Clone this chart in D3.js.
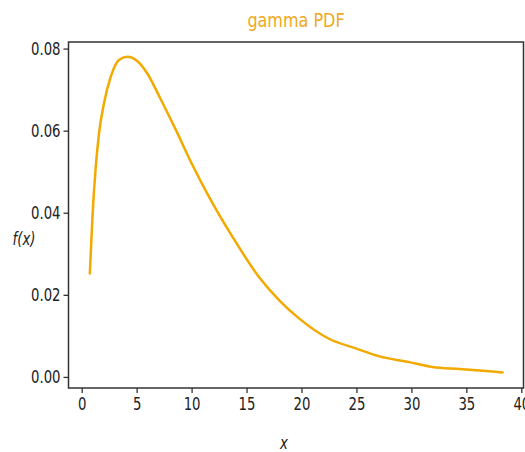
<!DOCTYPE html>
<html>
<head>
<meta charset="utf-8">
<script src="https://cdn.jsdelivr.net/npm/d3@7"></script>
<style>
  body { margin: 0; background: #fff; }
  text { font-family: "DejaVu Sans", sans-serif; }
</style>
</head>
<body>
<div id="chart"></div>
<script>
// values
var xs = [0.74, 0.98, 1.28, 1.58, 2.03, 2.64, 3.39, 4.14, 5.0, 6.0, 7.09, 8.6, 10.1, 11.6, 13.75, 16.2, 18.0, 19.8, 22.5, 25.0, 27.1, 29.8, 31.9, 34.4, 38.3];
var pdf = [0.0252, 0.0390, 0.0512, 0.0594, 0.0667, 0.0731, 0.0772, 0.0780, 0.0771, 0.0738, 0.0682, 0.0600, 0.0515, 0.0438, 0.0340, 0.0241, 0.0186, 0.0142, 0.0093, 0.0069, 0.0050, 0.0036, 0.0024, 0.0019, 0.0011];
var xTicks = [0, 5, 10, 15, 20, 25, 30, 35, 40];
var yTicks = [0, 0.02, 0.04, 0.06, 0.08];

(function() {
  var w = 525, h = 452;
  var mLeft = 68.5, mRight = 523.5, mTop = 42, mBottom = 388;
  var sx = 0.78; // text is narrow in the picture

  var svg = d3.select("#chart").append("svg")
    .attr("width", w)
    .attr("height", h);

  var x = d3.scaleLinear().domain([-1.2, 40.2]).range([mLeft, mRight]);
  var y = d3.scaleLinear().domain([-0.0027, 0.0816]).range([mBottom, mTop]);

  // curve
  var line = d3.line()
    .x(function(d, i) { return x(xs[i]); })
    .y(function(d) { return y(d); })
    .curve(d3.curveMonotoneX);

  svg.append("path")
    .datum(pdf)
    .attr("d", line)
    .attr("fill", "none")
    .attr("stroke", "#f2a900")
    .attr("stroke-width", 2.5)
    .attr("stroke-linejoin", "round")
    .attr("stroke-linecap", "round");

  // axes
  var xAxis = svg.append("g")
    .attr("transform", "translate(0," + mBottom + ")")
    .call(d3.axisBottom(x).tickValues(xTicks).tickFormat(d3.format("d")).tickSize(5).tickSizeOuter(0));
  var yAxis = svg.append("g")
    .attr("transform", "translate(" + mLeft + ",0)")
    .call(d3.axisLeft(y).tickValues(yTicks).tickFormat(d3.format(".2f")).tickSize(5).tickSizeOuter(0));

  [xAxis, yAxis].forEach(function(g) {
    g.select(".domain").remove();
    g.selectAll(".tick line").attr("stroke", "#333").attr("stroke-width", 1.3);
    g.selectAll(".tick text")
      .attr("fill", "#222")
      .style("font-size", "17px");
  });
  xAxis.selectAll(".tick text").attr("y", 10).attr("transform", "scale(" + sx + ",1)");
  yAxis.selectAll(".tick text").attr("x", -8 / sx).attr("transform", "scale(" + sx + ",1)");

  // frame
  svg.append("rect")
    .attr("x", mLeft)
    .attr("y", mTop)
    .attr("width", mRight - mLeft)
    .attr("height", mBottom - mTop)
    .attr("fill", "none")
    .attr("stroke", "#333")
    .attr("stroke-width", 1.5);

  // title and labels
  svg.append("text")
    .attr("transform", "translate(" + (mLeft + mRight) / 2 + ",27) scale(0.8,1)")
    .attr("text-anchor", "middle")
    .attr("fill", "#f0a820")
    .style("font-size", "20px")
    .text("gamma PDF");

  svg.append("text")
    .attr("transform", "translate(24,245) scale(" + sx + ",1)")
    .attr("text-anchor", "middle")
    .attr("fill", "#222")
    .style("font-size", "17px")
    .style("font-style", "italic")
    .text("f(x)");

  svg.append("text")
    .attr("transform", "translate(284,449) scale(" + sx + ",1)")
    .attr("text-anchor", "middle")
    .attr("fill", "#222")
    .style("font-size", "17px")
    .style("font-style", "italic")
    .text("x");
})();
</script>
</body>
</html>
